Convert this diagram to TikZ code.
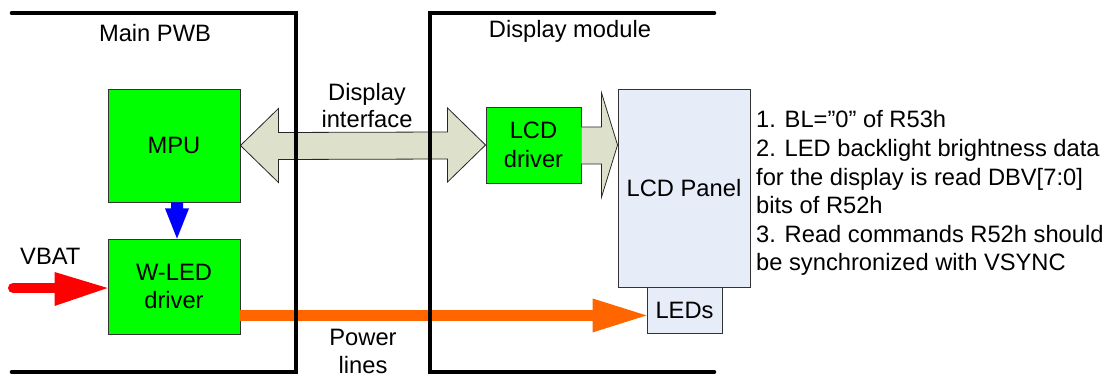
\documentclass[tikz,border=0pt]{standalone}
\usepackage{fontspec}
\setmainfont{Liberation Sans}
\usetikzlibrary{calc}
\definecolor{boxgreen}{HTML}{00FF00}
\definecolor{ifill}{HTML}{DDE0CB}
\definecolor{panelfill}{HTML}{E6ECF8}
\definecolor{pline}{HTML}{FF6600}
\begin{document}
\begin{tikzpicture}[x=1pt,y=-1pt,
  font=\fontsize{23.7}{28.6}\selectfont,
  gbox/.style={draw=black!80, line width=0.9pt, fill=boxgreen, inner sep=0pt, align=center},
  pbox/.style={draw=black!80, line width=0.9pt, fill=panelfill, inner sep=0pt, align=center},
  iarrow/.style={fill=ifill, draw=black!85, line width=0.8pt, line join=miter},
  bracket/.style={line width=4.6pt, line cap=round, line join=miter},
  lbl/.style={anchor=base, inner sep=0pt},
  note/.style={anchor=base west, inner sep=0pt}]
\useasboundingbox (0,0) rectangle (1112,374);

% boxes
\node[gbox, minimum width=132pt, minimum height=113pt] (mpu) at (174,145.5) {MPU};
\node[gbox, minimum width=132pt, minimum height=95pt] (wled) at (174,286.5) {W-LED\\driver};
\node[gbox, minimum width=95pt, minimum height=76pt] (lcd) at (533.5,145) {LCD\\driver};
\node[pbox, minimum width=132pt, minimum height=198pt] (panel) at (684,188) {LCD Panel};
\node[pbox, minimum width=75pt, minimum height=46pt] (leds) at (684.5,310) {LEDs};

% display interface double arrow
\filldraw[iarrow] (mpu.east) -- ++(38,-37) -- ++(0,24)
  -- ($(lcd.west)+(-38,-13)$) -- ++(0,-24) -- (lcd.west) -- ++(-38,37) -- ++(0,-23)
  -- ($(mpu.east)+(38,14)$) -- ++(0,23) -- cycle;

% LCD driver -> panel arrow
\fill[ifill] ($(lcd.east)+(0,-18)$) -- ($(panel.west |- lcd.east)+(-16,-18)$) -- ++(0,-34)
  -- (panel.west |- lcd.east) -- ++(-16,52) -- ++(0,-33) -- ($(lcd.east)+(0,19)$) -- cycle;
\draw[black!85, line width=0.8pt, line join=miter] ($(lcd.east)+(0,-18)$) -- ($(panel.west |- lcd.east)+(-16,-18)$) -- ++(0,-34)
  -- (panel.west |- lcd.east) -- ++(-16,52) -- ++(0,-33) -- ($(lcd.east)+(0,19)$);

% MPU -> W-LED driver (blue)
\fill[blue] ($(mpu.south)+(-3,0)$) -- ($(mpu.south)+(9,0)$) -- ($(mpu.south)+(9,6)$)
  -- ($(mpu.south)+(15,6)$) -- ($(wled.north)+(3,0)$) -- ($(mpu.south)+(-9,6)$)
  -- ($(mpu.south)+(-3,6)$) -- cycle;

% VBAT (red)
\coordinate (vb) at (13,288);
\draw[red, line width=10pt, line cap=round] (vb) -- ($(wled.west)+(-50,1.5)$);
\fill[red] ($(wled.west)+(-53,-14.5)$) -- ($(wled.west)+(0,1.5)$) -- ($(wled.west)+(-53,19.5)$) -- cycle;

% power lines (orange)
\coordinate (ps) at ($(wled.south east)+(0,-19)$);
\draw[pline, line width=10.5pt] (ps) -- ($(leds.west |- ps)+(-52,0)$);
\fill[pline] ($(leds.west |- ps)+(-54,-17)$) -- (leds.west |- ps) -- ($(leds.west |- ps)+(-54,17)$) -- cycle;

% brackets
\draw[bracket] (12,13) -- (296,13) -- (296,372) -- (12,372);
\draw[bracket] (714,13) -- (430,13) -- (430,372) -- (714,372);

% labels
\node[lbl] (mainpwb) at (155,42) {Main PWB};
\node[lbl] (dmod) at (570,38) {Display module};
\node[lbl] (di1) at (367,101) {Display};
\node[lbl] (di2) at (367,128) {interface};
\node[note] (vbat) at (20,265) {VBAT};
\node[lbl] (pl1) at (363,345) {Power};
\node[lbl] (pl2) at (363,373) {lines};

% notes
\node[note] (n1) at (756,128) {1. BL=”0" of R53h};
\node[note] (n2) at (756,156.6) {2. LED backlight brightness data};
\node[note] (n3) at (756,185.2) {for the display is read DBV[7:0]};
\node[note] (n4) at (756,213.8) {bits of R52h};
\node[note] (n5) at (756,242.4) {3. Read commands R52h should};
\node[note] (n6) at (756,271) {be synchronized with VSYNC};
\end{tikzpicture}
\end{document}
